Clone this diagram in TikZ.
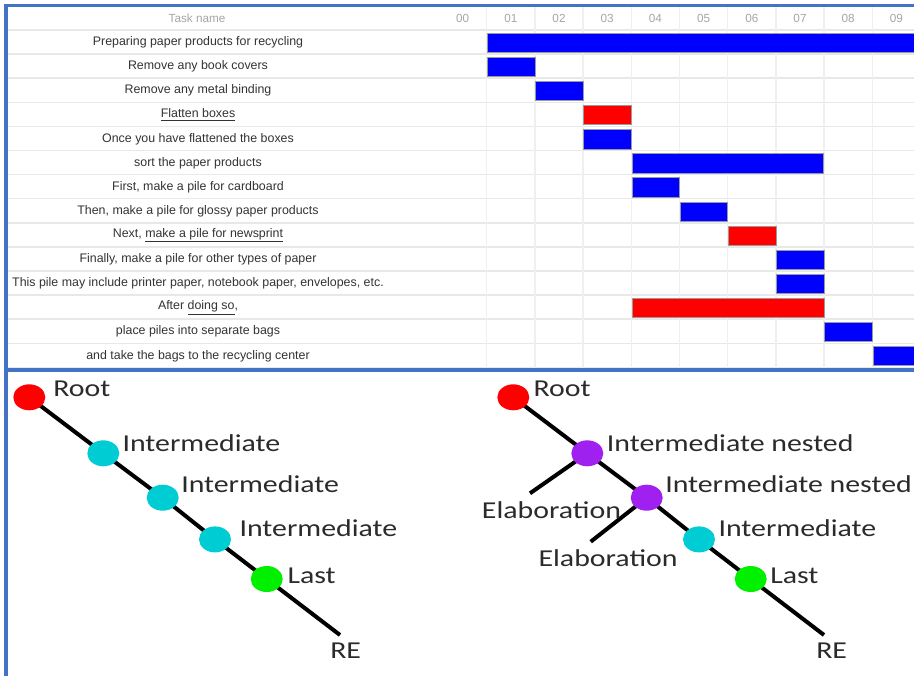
\documentclass[tikz,border=0pt]{standalone}
\usepackage{fontspec}
\setmainfont{Liberation Sans}
\newfontfamily\diagfont[FakeStretch=1.23]{Carlito}
\usetikzlibrary{shapes.geometric,backgrounds}
\definecolor{frameblue}{HTML}{4472C4}
\definecolor{gridgray}{HTML}{E8E8E8}
\definecolor{hdrgray}{HTML}{A6A6A6}
\definecolor{taskgray}{HTML}{333333}
\definecolor{bargray}{HTML}{9A9A9A}
\definecolor{barblue}{HTML}{0000FF}
\definecolor{barred}{HTML}{FF0000}
\definecolor{dotred}{HTML}{FF0000}
\definecolor{dotcyan}{HTML}{00CCD4}
\definecolor{dotgreen}{HTML}{00F000}
\definecolor{dotpurple}{HTML}{A020F0}
\definecolor{lblgray}{HTML}{2B2B2B}
\newcommand{\ganttbar}[4]{%
  \filldraw[fill=#4,draw=bargray,line width=0.6pt]
    ({438.5+48.2*#2+0.6},{30+24.1*#1+3.2}) rectangle ({min(438.5+48.2*#3,914)},{30+24.1*#1+22.5});}
\begin{document}
\begin{tikzpicture}[x=0.75pt,y=-0.75pt,
  task/.style={font=\fontsize{9.3}{11}\selectfont,text=taskgray,inner sep=0pt},
  hdr/.style={font=\fontsize{8.8}{10}\selectfont,text=hdrgray,inner sep=0pt},
  dot/.style={ellipse,minimum width=24pt,minimum height=19.5pt,inner sep=0pt},
  lbl/.style={anchor=base west,font=\diagfont\fontsize{18.2}{20}\selectfont,text=lblgray,inner sep=0pt},
  ln/.style={line width=3pt,black},
  frame/.style={draw=frameblue}]
\useasboundingbox (0,0) rectangle (914,676);
% grid
\foreach \i in {0,...,14}{\draw[gridgray,line width=1.1pt] (8,{30+24.1*\i}) -- (914,{30+24.1*\i});}
\foreach \k in {1,...,9}{\draw[gridgray!70,line width=1pt] ({438.5+48.2*\k},5) -- ({438.5+48.2*\k},368);}
% header
\node[hdr] (hTask) at (197,18) {Task name};
\foreach \k in {0,...,9}{\node[hdr] (h\k) at ({462.6+48.2*\k},18) {0\k};}
% task names
\node[task] (t0) at (198,42.5) {Preparing paper products for recycling};
\node[task] (t1) at (198,66.6) {Remove any book covers};
\node[task] (t2) at (198,90.7) {Remove any metal binding};
\node[task] (t3) at (198,114.8) {\underline{Flatten boxes}};
\node[task] (t4) at (198,138.9) {Once you have flattened the boxes};
\node[task] (t5) at (198,163.0) {sort the paper products};
\node[task] (t6) at (198,187.1) {First, make a pile for cardboard};
\node[task] (t7) at (198,211.2) {Then, make a pile for glossy paper products};
\node[task] (t8) at (198,235.3) {Next, \underline{make a pile for newsprint}};
\node[task] (t9) at (198,259.4) {Finally, make a pile for other types of paper};
\node[task] (t10) at (198,283.5) {This pile may include printer paper, notebook paper, envelopes, etc.};
\node[task] (t11) at (198,307.6) {After \underline{doing so},};
\node[task] (t12) at (198,331.7) {place piles into separate bags};
\node[task] (t13) at (198,355.8) {and take the bags to the recycling center};
% bars
\ganttbar{0}{1}{11}{barblue}
\ganttbar{1}{1}{2}{barblue}
\ganttbar{2}{2}{3}{barblue}
\ganttbar{3}{3}{4}{barred}
\ganttbar{4}{3}{4}{barblue}
\ganttbar{5}{4}{7.99}{barblue}
\ganttbar{6}{4}{5}{barblue}
\ganttbar{7}{5}{6}{barblue}
\ganttbar{8}{6}{7}{barred}
\ganttbar{9}{7}{8}{barblue}
\ganttbar{10}{7}{8}{barblue}
\ganttbar{11}{4}{8}{barred}
\ganttbar{12}{8}{9}{barblue}
\ganttbar{13}{9}{11}{barblue}
% frame
\draw[frame,line width=2.5pt] (4,5.3) -- (914,5.3);
\draw[frame,line width=3.5pt] (4,370) -- (914,370);
\draw[frame,line width=3.5pt] (6,4) -- (6,676);
% left diagram
\node[dot,fill=dotred] (lr) at (29.3,397.3) {};
\node[dot,fill=dotcyan] (li1) at (103.3,453.3) {};
\node[dot,fill=dotcyan] (li2) at (162.7,497.7) {};
\node[dot,fill=dotcyan] (li3) at (215,539.4) {};
\node[dot,fill=dotgreen] (ll) at (266.7,579) {};
\coordinate (le) at (340,635);
% right diagram
\node[dot,fill=dotred] (rr) at (513.3,397.3) {};
\node[dot,fill=dotpurple] (rp1) at (587.3,453.3) {};
\node[dot,fill=dotpurple] (rp2) at (646.7,497.7) {};
\node[dot,fill=dotcyan] (rc) at (699,539.4) {};
\node[dot,fill=dotgreen] (rg) at (750.7,579) {};
\coordinate (re) at (824,635);
\coordinate (rb1) at (530,493.3);
\coordinate (rb2) at (590.7,541.7);
\begin{scope}[on background layer]
\fill[white] (0,0) rectangle (914,676);
\draw[ln] (lr.center) -- (li1.center) -- (li2.center) -- (li3.center) -- (ll.center) -- (le);
\draw[ln] (rr.center) -- (rp1.center) -- (rp2.center) -- (rc.center) -- (rg.center) -- (re);
\draw[ln] (rp1.center) -- (rb1);
\draw[ln] (rp2.center) -- (rb2);
\end{scope}
% labels
\node[lbl] (lRoot) at (53,396.7) {Root};
\node[lbl] (lI1) at (122.3,451) {Intermediate};
\node[lbl] (lI2) at (181,492.3) {Intermediate};
\node[lbl] (lI3) at (239.3,536.7) {Intermediate};
\node[lbl] (lLast) at (287.3,583.3) {Last};
\node[lbl] (lRE) at (330,658.3) {RE};
\node[lbl] (rRoot) at (533.3,396.7) {Root};
\node[lbl] (rN1) at (606.7,451) {Intermediate nested};
\node[lbl] (rN2) at (665,492.3) {Intermediate nested};
\node[lbl] (rE1) at (481.7,518.3) {Elaboration};
\node[lbl] (rE2) at (538.3,566.7) {Elaboration};
\node[lbl] (rI) at (718.3,536.7) {Intermediate};
\node[lbl] (rLast) at (770,583.3) {Last};
\node[lbl] (rRE) at (816,658.3) {RE};
\end{tikzpicture}
\end{document}
